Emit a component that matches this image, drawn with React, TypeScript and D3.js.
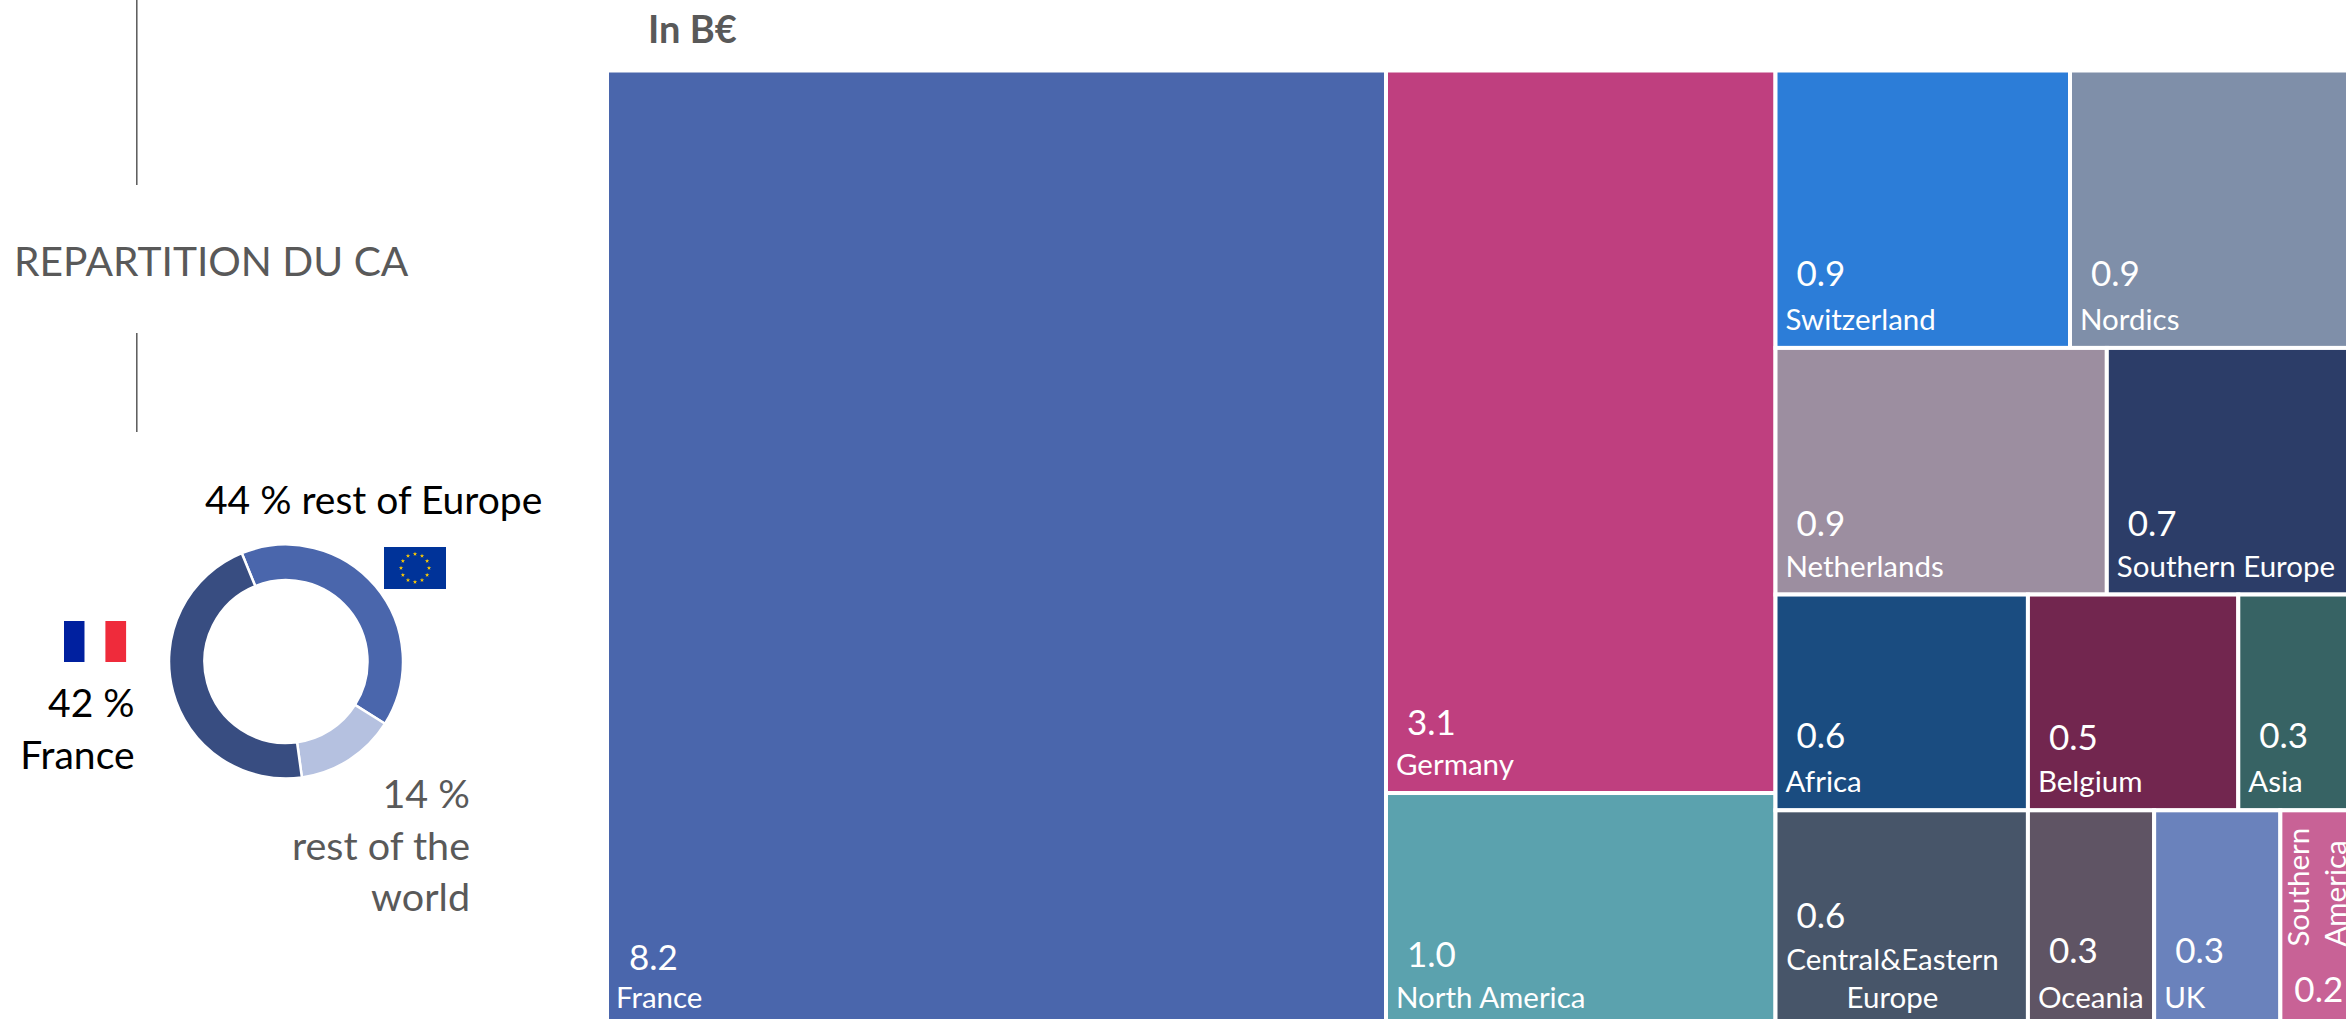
import { useEffect, useRef } from "react"
import * as d3 from "d3";

// Values in B€
const regionNames = ["France", "Germany", "North America", "Switzerland", "Nordics", "Netherlands", "Southern Europe", "Africa", "Belgium", "Asia", "Central&Eastern Europe", "Oceania", "UK", "Southern America"];
const regionValues = [8.2, 3.1, 1.0, 0.9, 0.9, 0.9, 0.7, 0.6, 0.5, 0.3, 0.6, 0.3, 0.3, 0.2];
const regionColors = ["#4a66ac", "#bf3f7f", "#5ba2ae", "#2c7dd8", "#7f8fa9", "#9c8ea0", "#2c3d68", "#1a4c80", "#72264f", "#376364", "#475569", "#5f5464", "#6a82bc", "#c86296"];

// How the regions are grouped in the treemap
const middleColumn = ["Germany", "North America"];
const rightRows = [
    ["Switzerland", "Nordics"],
    ["Netherlands", "Southern Europe"],
    ["Africa", "Belgium", "Asia"],
    ["Central&Eastern Europe", "Oceania", "UK", "Southern America"],
];

// Donut, shares measured from the ring itself, the printed labels differ a bit
const donutNames = ["rest of Europe", "rest of the world", "France"];
const donutShares = [40.1, 13.9, 46.0];
const donutColors = ["#4a66ac", "#b5c1e0", "#384d81"];

const FONT = "Lato, Carlito, sans-serif";
const GREY = "#595959";
const NAME_SIZE = 29.5;
const VALUE_SIZE = 35;

// label offsets from the left/bottom edge of a cell, only where the default is off
const labelNudge: any = {
    "France": { vx: 22, vy: 56, nx: 9 },
    "Germany": { vy: 58, ny: 18 },
    "Switzerland": { vy: 62 },
    "Nordics": { vy: 62 },
    "Netherlands": { vy: 59 },
    "Southern Europe": { vy: 59 },
    "North America": { vy: 59 },
    "Africa": { vy: 62, ny: 18 },
    "Belgium": { vy: 60, ny: 18 },
    "Asia": { vy: 62, ny: 18 },
    "Central&Eastern Europe": { vy: 98, ny: 18 },
    "Oceania": { vy: 63 },
    "UK": { vy: 63 },
};

function leaf(name: string) {
    return { name, value: regionValues[regionNames.indexOf(name)] };
}

function drawTreemap(svg: any) {
    const root = d3.hierarchy({
        children: [
            { children: [leaf("France")] },
            { children: middleColumn.map(leaf) },
            { children: rightRows.map((row) => ({ children: row.map(leaf) })) },
        ],
    } as any).sum((d: any) => d.value || 0);

    // columns first, then rows, then cells in a row
    const tile = (node: any, x0: number, y0: number, x1: number, y1: number) => {
        if (node.depth % 2 === 0) d3.treemapDice(node, x0, y0, x1, y1);
        else d3.treemapSlice(node, x0, y0, x1, y1);
    };

    // the chart runs off the right and bottom of the page
    d3.treemap().tile(tile).size([1757.5, 955.6])(root as any);

    const cells = svg.append("g")
        .attr("transform", "translate(607,70.5)")
        .selectAll("g")
        .data(root.leaves())
        .join("g");

    cells.append("rect")
        .attr("x", (d: any) => d.x0)
        .attr("y", (d: any) => d.y0)
        .attr("width", (d: any) => d.x1 - d.x0)
        .attr("height", (d: any) => d.y1 - d.y0)
        .attr("fill", (d: any) => regionColors[regionNames.indexOf(d.data.name)])
        .attr("stroke", "#fff")
        .attr("stroke-width", 4);

    cells.append("text")
        .attr("x", (d: any) => d.x0 + (labelNudge[d.data.name]?.vx ?? 21))
        .attr("y", (d: any) => d.y1 - (labelNudge[d.data.name]?.vy ?? 60))
        .attr("fill", "#fff")
        .attr("font-size", VALUE_SIZE)
        .attr("font-family", FONT)
        .text((d: any) => d3.format(".1f")(d.data.value))
        .filter((d: any) => d.data.name === "Southern America")
        .attr("x", (d: any) => d.x0 + 14)
        .attr("y", (d: any) => d.y1 - 24);

    cells.filter((d: any) => !["Central&Eastern Europe", "Southern America"].includes(d.data.name))
        .append("text")
        .attr("x", (d: any) => d.x0 + (labelNudge[d.data.name]?.nx ?? 10))
        .attr("y", (d: any) => d.y1 - (labelNudge[d.data.name]?.ny ?? 18))
        .attr("fill", "#fff")
        .attr("font-size", NAME_SIZE)
        .attr("font-family", FONT)
        .text((d: any) => d.data.name);

    // the two labels that wrap
    const central = cells.filter((d: any) => d.data.name === "Central&Eastern Europe");
    ["Central&Eastern", "Europe"].forEach((line, i) => {
        central.append("text")
            .attr("x", (d: any) => d.x0 + 117)
            .attr("y", (d: any) => d.y1 - 56 + i * 38)
            .attr("text-anchor", "middle")
            .attr("fill", "#fff")
            .attr("font-size", NAME_SIZE)
            .attr("font-family", FONT)
            .text(line);
    });

    const southern = cells.filter((d: any) => d.data.name === "Southern America");
    ["Southern", "America"].forEach((line, i) => {
        southern.append("text")
            .attr("transform", (d: any) => `translate(${d.x0 + 28.5 + i * 37.5},${d.y1 - 79.5}) rotate(-90)`)
            .attr("fill", "#fff")
            .attr("font-size", NAME_SIZE)
            .attr("font-family", FONT)
            .text(line);
    });
}

function drawDonut(svg: any) {
    const pie = d3.pie<number>().sort(null)
        .startAngle(-22.2 * Math.PI / 180)
        .endAngle((360 - 22.2) * Math.PI / 180);
    const arc: any = d3.arc().innerRadius(81.5).outerRadius(117);

    svg.append("g")
        .attr("transform", "translate(286,661.5)")
        .selectAll("path")
        .data(pie(donutShares))
        .join("path")
        .attr("d", arc)
        .attr("fill", (_: any, i: number) => donutColors[i])
        .attr("stroke", "#fff")
        .attr("stroke-width", 2.5)
        .append("title")
        .text((_: any, i: number) => donutNames[i]);
}

function drawFlags(svg: any) {
    const france = svg.append("g").attr("transform", "translate(64,621)");
    ["#00209f", "#ffffff", "#ef2b3b"].forEach((c, i) => {
        france.append("rect").attr("x", i * 20.7).attr("width", 20.7).attr("height", 41).attr("fill", c);
    });

    const eu = svg.append("g").attr("transform", "translate(384,547)");
    eu.append("rect").attr("width", 62).attr("height", 42).attr("fill", "#003399");
    eu.selectAll("path")
        .data(d3.range(12))
        .join("path")
        .attr("d", d3.symbol().type(d3.symbolStar).size(6) as any)
        .attr("transform", (i: number) => {
            const a = i * Math.PI / 6;
            return `translate(${31 + 14 * Math.sin(a)},${21 - 14 * Math.cos(a)})`;
        })
        .attr("fill", "#ffcc00");
}

function drawLeftText(svg: any) {
    const put = (text: string, x: number, y: number, size: number, color: string, anchor = "start", weight = 400) => {
        svg.append("text")
            .attr("x", x).attr("y", y)
            .attr("font-size", size)
            .attr("font-weight", weight)
            .attr("font-family", FONT)
            .attr("fill", color)
            .attr("text-anchor", anchor)
            .text(text);
    };

    svg.append("path").attr("d", "M136.8,0V185M136.8,333V432").attr("stroke", GREY).attr("stroke-width", 1.5).attr("fill", "none");

    put("REPARTITION DU CA", 14, 275.5, 40.7, GREY);
    put("In B€", 648, 43, 38, GREY, "start", 700);
    put("44 % rest of Europe", 205, 514, 39, "#000");
    put("42 %", 134.5, 717, 39, "#000", "end");
    put("France", 134.5, 769, 39, "#000", "end");
    put("14 %", 470, 808, 39.5, GREY, "end");
    put("rest of the", 470, 860, 39.5, GREY, "end");
    put("world", 470, 911, 39.5, GREY, "end");
}

export default function App() {
    const svgRef = useRef<SVGSVGElement | null>(null);

    useEffect(() => {
        const svg = d3.select(svgRef.current);
        svg.selectAll("*").remove();
        drawTreemap(svg);
        drawDonut(svg);
        drawFlags(svg);
        drawLeftText(svg);
    }, []);

    return (
        <svg ref={svgRef} width={2346} height={1019} viewBox="0 0 2346 1019"
            style={{ position: "absolute", left: 0, top: 0, display: "block", background: "#fff" }} />
    );
}
